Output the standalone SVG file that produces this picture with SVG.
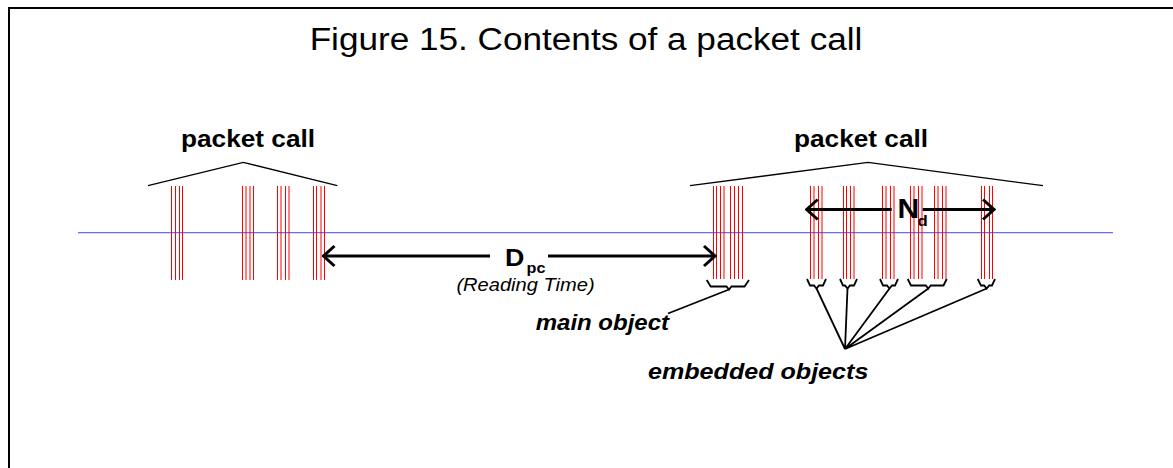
<svg xmlns="http://www.w3.org/2000/svg" width="1173" height="468" viewBox="0 0 1173 468">
<defs>
<style>
.t{font-family:"Liberation Sans",Arial,sans-serif;fill:#000}
.b{font-weight:bold}
.i{font-style:italic}
.burst{stroke:#ff0000;stroke-width:1;fill:none}
.roof{stroke:#000;stroke-width:1.3;fill:none}
.brace{stroke:#000;stroke-width:1.8;fill:none;stroke-linejoin:miter}
.ptr{stroke:#000;stroke-width:1.8;fill:none}
.arr{stroke:#000;stroke-width:3;fill:none}
</style>
<marker id="chev" markerUnits="userSpaceOnUse" viewBox="0 -12 16 24" markerWidth="16" markerHeight="24" refX="14" refY="0" orient="auto-start-reverse">
<path d="M3,-10 L14,0 L3,10" fill="none" stroke="#000" stroke-width="3"/>
</marker>
</defs>
<rect x="9" y="8" width="1200" height="500" fill="#fff" stroke="#000" stroke-width="2"/>
<text class="t" transform="translate(586,50) scale(1.116,1)" text-anchor="middle" font-size="31.5">Figure 15. Contents of a packet call</text>
<line x1="78" y1="232.7" x2="1113" y2="232.7" stroke="#6a6aff" stroke-width="1.2"/>

<g id="packet-call-1">
<text class="t b" transform="translate(248,146.5) scale(1.116,1)" text-anchor="middle" font-size="23.5">packet call</text>
<path class="roof" d="M148,185.7 L243.3,162.3 L337.3,185.7"/>
<path class="burst" d="M171.5,186V280M175.5,186V280M179.5,186V280M182.5,186V280"/>
<path class="burst" d="M242.5,186V280M246,186V280M250,186V280M253.5,186V280"/>
<path class="burst" d="M277.5,186V280M281,186V280M285.5,186V280M289,186V280"/>
<path class="burst" d="M313.5,186V280M316.5,186V280M321,186V280M324.5,186V280"/>
</g>

<g id="packet-call-2">
<text class="t b" transform="translate(861,146.5) scale(1.116,1)" text-anchor="middle" font-size="23.5">packet call</text>
<path class="roof" d="M690,185.7 L868,162.3 L1043,185.7"/>
<g id="main-object-burst">
<path class="burst" d="M713.5,186V279M716.5,186V279M720.5,186V279M724,186V279M730.5,186V279M734.5,186V279M738.5,186V279M742.5,186V279"/>
<path class="brace" d="M706.7,280 L710.7,286.5 L726.5,286.5 L729,289.5 L731.5,286.5 L744.5,286.5 L749,280"/>
</g>
<g id="embedded-bursts">
<path class="burst" d="M810.5,186V279M814,186V279M818.5,186V279M822,186V279"/>
<path class="burst" d="M843.5,186V279M846.5,186V279M850.5,186V279M854,186V279"/>
<path class="burst" d="M882.5,186V279M886,186V279M890.5,186V279M894,186V279"/>
<path class="burst" d="M910.5,186V279M914,186V279M918.5,186V279M922,186V279"/>
<path class="burst" d="M934.5,186V279M938,186V279M942.5,186V279M946,186V279"/>
<path class="burst" d="M981.5,186V279M984.5,186V279M989.5,186V279M992.5,186V279"/>
<path class="brace" d="M807,279 L810,285.5 L814,285.5 L816.5,288.5 L819,285.5 L823,285.5 L826,279"/>
<path class="brace" d="M840,279 L843,285.5 L845,285.5 L847.5,288.5 L850,285.5 L854,285.5 L857,279"/>
<path class="brace" d="M880,279 L883,285.5 L887,285.5 L889.5,288.5 L892,285.5 L895,285.5 L898,279"/>
<path class="brace" d="M907.7,279 L911,285.5 L925.8,285.5 L928.3,288.5 L930.8,285.5 L943.5,285.5 L946.7,279"/>
<path class="brace" d="M977.7,279 L981,285.5 L984.2,285.5 L986.7,288.5 L989.2,285.5 L992,285.5 L995,279"/>
</g>
</g>

<g id="dpc-arrow">
<text class="t b" transform="translate(505,265.5) scale(1.116,1)" font-size="24">D</text>
<text class="t b" transform="translate(526.5,272.5) scale(1.116,1)" font-size="14.5">pc</text>
<text class="t i" transform="translate(525.5,291) scale(1.116,1)" text-anchor="middle" font-size="18">(Reading Time)</text>
</g>

<g id="nd-arrow">
<text class="t b" transform="translate(897.5,217.5) scale(1.116,1)" font-size="27">N</text>
<text class="t b" transform="translate(917.5,225.5) scale(1.116,1)" font-size="15">d</text>
</g>

<g id="main-object-label">
<text class="t b i" transform="translate(669,330) scale(1.116,1)" text-anchor="end" font-size="21.5">main object</text>
</g>

<g id="embedded-objects-label">
<text class="t b i" transform="translate(648,378.5) scale(1.116,1)" font-size="22.5">embedded objects</text>
</g>

<g id="connectors">
<line class="arr" x1="490" y1="256" x2="323.5" y2="256" marker-end="url(#chev)"/>
<line class="arr" x1="548" y1="256" x2="715" y2="256" marker-end="url(#chev)"/>
<line class="arr" x1="891.7" y1="209.5" x2="806.7" y2="209.5" marker-end="url(#chev)"/>
<line class="arr" x1="922.7" y1="209.5" x2="994" y2="209.5" marker-end="url(#chev)"/>
<line class="ptr" x1="729" y1="289.5" x2="668" y2="313.5"/>
<path class="ptr" d="M845,349 L816.5,288.5 M845,349 L847.5,288.5 M845,349 L889.5,288.5 M845,349 L928.3,288.5 M845,349 L986.7,288.5"/>
</g>
</svg>
